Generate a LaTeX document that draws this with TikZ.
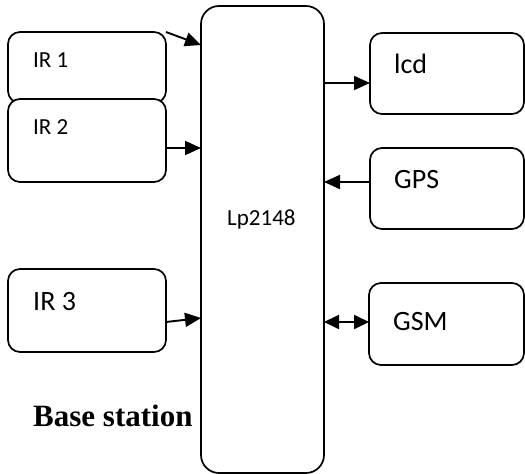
\documentclass[tikz,border=0pt]{standalone}
\usepackage{fontspec}
\setmainfont{Carlito}
\newfontfamily\timesfont{Liberation Serif}
\usetikzlibrary{arrows.meta}
\tikzset{
  box/.style={draw, line width=1.7pt, rounded corners=12pt, fill=white, inner sep=0pt, outer sep=0pt},
  mainbox/.style={draw, line width=1.7pt, rounded corners=18pt, inner sep=0pt, outer sep=0pt},
  smalltxt/.style={anchor=base west, inner sep=0pt, font=\fontsize{23}{27}\selectfont},
  bigtxt/.style={anchor=base west, inner sep=0pt, font=\fontsize{28}{33}\selectfont},
  conn/.style={line width=1.9pt, -{Triangle[length=16pt,width=14pt]}},
  dconn/.style={line width=1.9pt, {Triangle[length=15pt,width=14pt]}-{Triangle[length=15pt,width=14pt]}}
}
\begin{document}
\begin{tikzpicture}[x=1pt,y=-1pt]
\useasboundingbox (0,0) rectangle (525,474);
% main controller
\node[mainbox, minimum width=123pt, minimum height=467pt] (main) at (262.5,239.5) {};
\node[smalltxt] (maint) at (227,225) {Lp2148};
% inputs
\node[box, minimum width=158pt, minimum height=71pt] (ir1) at (87,67.5) {};
\node[smalltxt] (ir1t) at (33,67) {IR 1};
\node[box, minimum width=158pt, minimum height=83pt] (ir2) at (87,140.5) {};
\node[smalltxt] (ir2t) at (33,134) {IR 2};
\node[box, minimum width=158pt, minimum height=83pt] (ir3) at (87,310.5) {};
\node[bigtxt] (ir3t) at (33,310) {IR 3};
% outputs
\node[box, minimum width=154pt, minimum height=81pt] (lcd) at (447,73.5) {};
\node[bigtxt] (lcdt) at (394,73) {lcd};
\node[box, minimum width=154pt, minimum height=81pt] (gps) at (447,188.5) {};
\node[bigtxt] (gpst) at (394,188) {GPS};
\node[box, minimum width=155pt, minimum height=82pt] (gsm) at (446.5,324) {};
\node[bigtxt] (gsmt) at (393,330) {GSM};
% caption
\node[anchor=base west, inner sep=0pt, font=\timesfont\bfseries\fontsize{31}{36}\selectfont] (base) at (33,426) {Base station};
% connectors
\draw[conn] (ir1.north east) -- (main.west |- 0,45);
\draw[conn] (ir2.east |- 0,148) -- (main.west |- 0,148);
\draw[conn] (ir3.east |- 0,322) -- (main.west |- 0,318);
\draw[conn] (main.east |- 0,83) -- (lcd.west |- 0,83);
\draw[conn] (gps.west |- 0,182) -- (main.east |- 0,182);
\draw[dconn] (main.east |- 0,322) -- (gsm.west |- 0,322);
\end{tikzpicture}
\end{document}
